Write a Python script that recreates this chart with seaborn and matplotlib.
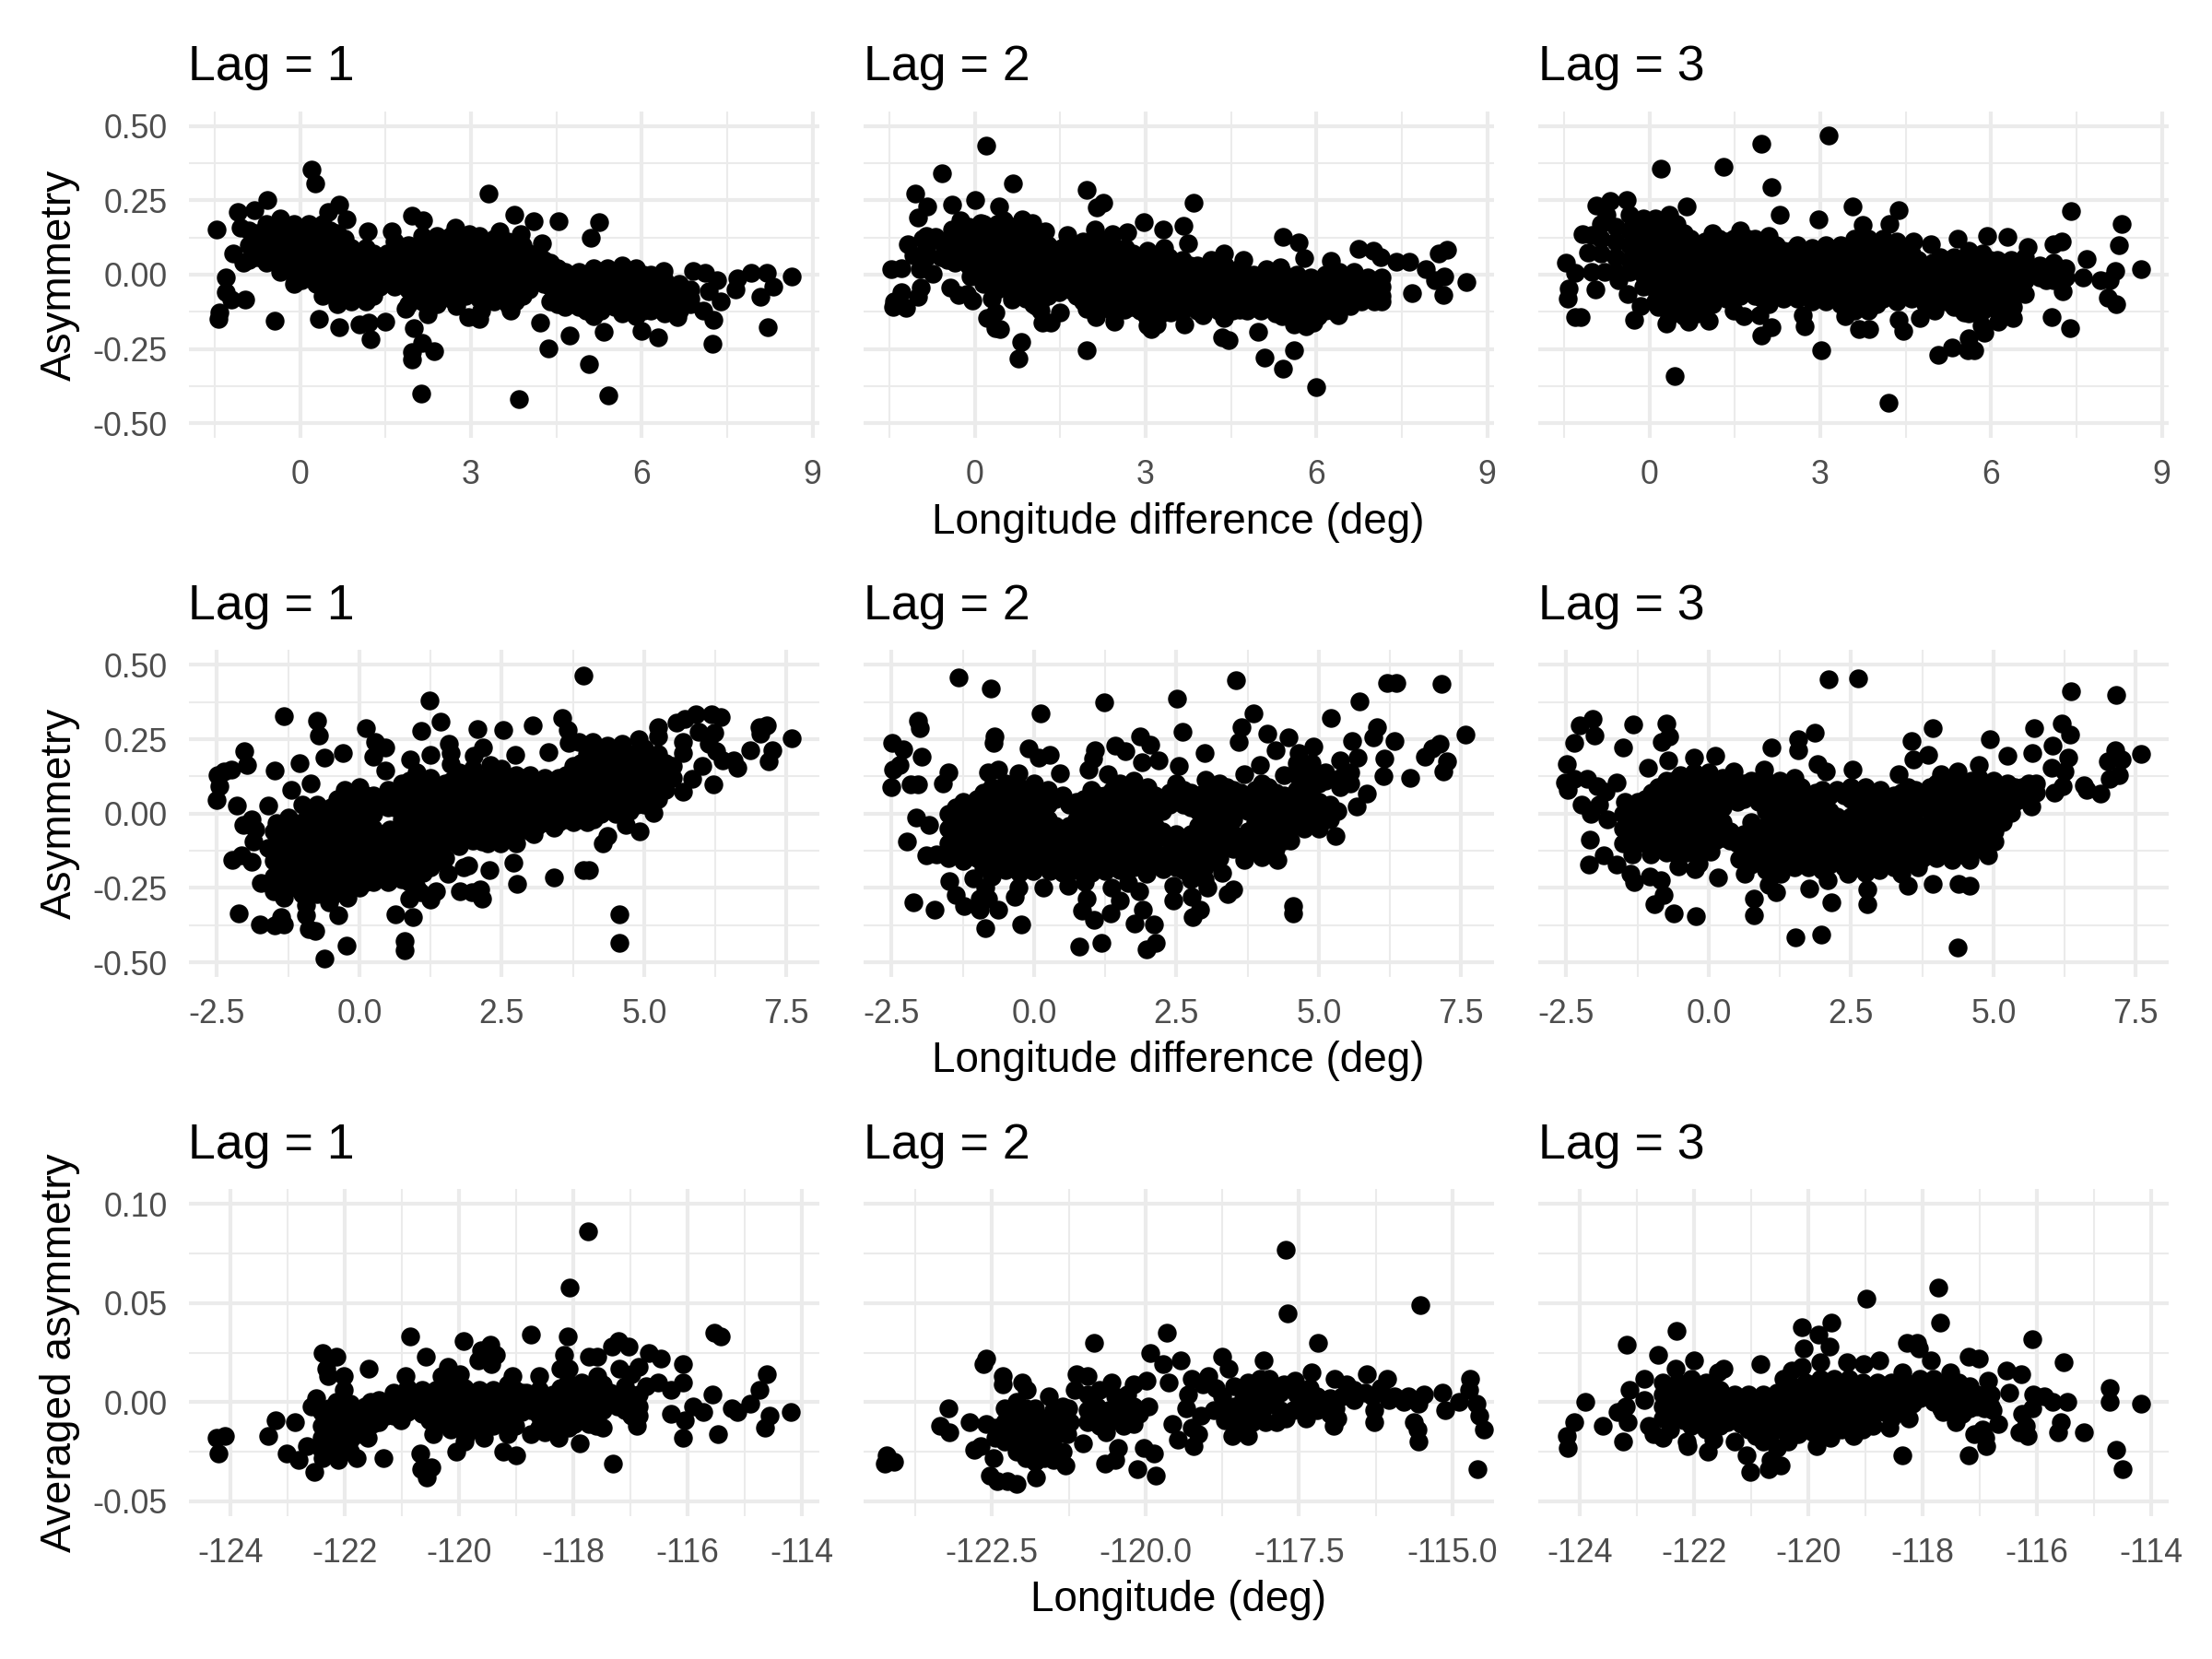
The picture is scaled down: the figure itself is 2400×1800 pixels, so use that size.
#!/usr/bin/env python3
# Asymmetry vs longitude scatter panels, three rows by three lags.
import matplotlib
matplotlib.use("Agg")
import pandas as pd
import seaborn as sns
from matplotlib import pyplot as plt

# each tuple is one x followed by the y values read at that x
top_lag1 = [
(-1.47,.153),(-1.43,-.149),(-1.41,-.126),(-1.3,-.01,-.058),(-1.21,-.084),(-.97,-.084),(-1.18,.07),(-.99,.04),(-1.09,.212),(-.81,.218),(-.57,.25),(-1.04,.159),(-.44,-.155),
(.2,.352),(.27,.307),(.68,.236),(.49,.212),(.82,.186),(.33,-.149),(.69,-.176),(1.05,-.167),(1.21,-.161),(1.49,-.158),(1.23,-.218),(1.85,-.114),(2,-.179),(1.96,-.26,-.286),(2.14,-.229),(2.35,-.256),(2.12,-.399),
(3.84,-.418),(5.41,-.407),(5.08,-.301),(4.74,-.205),(4.36,-.247),(4.21,-.161),(5.33,-.191),(5.99,-.189),(6.29,-.212),(6.63,-.144),(7.25,-.152),(7.24,-.233),(7.08,-.12),(8.21,-.176),(8.09,-.076),(8.31,-.039),(8.64,-.007),(8.2,.007),(7.92,.005),(7.68,-.013),(7.64,-.051),(7.38,-.09),(7.18,-.055),(7.32,-.019),(7.11,.005),(6.9,.011),(6.39,.011),
(3.3,.274),(3.76,.2),(4.1,.18),(4.54,.18),(5.25,.177),(5.11,.125),(4.25,.105),(3.88,.135),(3.51,.147),(1.96,.198),(2.16,.183),(1.61,.147),(1.19,.147),(2.72,.159),(3.14,.129),(2.97,.135),(3.7,-.12),(3.18,-.12),(2.95,-.143),(3.14,-.149),(2.74,-.106),(2.24,-.132),
(-.9,.15,.1,.05),(-.6,.17,.12,.08,.04),(-.35,.19,.14,.1,.06,.01),(-.1,.17,.13,.08,.04,0,-.03),(.15,.17,.12,.08,.03,-.01),(.4,.17,.12,.08,.03,-.02,-.07),(.65,.14,.1,.05,0,-.05,-.1),(.9,.09,.05,0,-.05,-.09),(1.15,.09,.05,0,-.05,-.09),(1.4,.05,0,-.04),(1.65,.11,.07,.03,-.01,-.04),(1.9,.1,.05,0,-.05,-.1),(2.15,.13,.08,.04,0,-.04,-.09),(2.4,.13,.09,.05,0,-.05,-.1),(2.65,.13,.09,.04,0,-.04,-.08),(2.9,.1,.06,.02,-.03,-.07),(3.15,.1,.05,.01,-.04,-.08),(3.4,.12,.08,.04,0,-.05,-.09),(3.65,.11,.07,.03,-.02,-.07,-.1),(3.9,.1,.05,.01,-.03,-.07),(4.15,.06,.02,-.02),(4.4,.04,0,-.04,-.09),(4.65,.01,-.03,-.07,-.11),(4.9,.01,-.03,-.07,-.11),(5.15,.02,-.02,-.06,-.1,-.14),(5.4,.02,-.02,-.06,-.1),(5.65,.03,-.01,-.05,-.09,-.13),(5.9,.02,-.02,-.06,-.1,-.14),(6.15,0,-.04,-.08,-.12),(6.4,-.02,-.06,-.1,-.13),(6.65,-.03,-.06,-.09,-.12),(6.85,-.05,-.08,-.1),
(-.75,.14,.09,.06),(-.48,.15,.1,.06),(-.22,.16,.12,.08,.03),(.02,.15,.1,.06,.02,-.02),(.28,.15,.1,.05,.01,-.03),(.52,.15,.1,.05,0,-.05),(.78,.12,.07,.02,-.03,-.07),(1.02,.07,.02,-.03,-.07),(1.28,.07,.02,-.02,-.07),(1.52,.07,.02,-.02),(1.78,.08,.05,.01,-.03),(2.02,.08,.03,-.02,-.07),(2.28,.11,.06,.02,-.02,-.07),(2.52,.11,.07,.02,-.02,-.07),(2.78,.11,.07,.02,-.02,-.06),(3.02,.08,.04,0,-.05),(3.28,.08,.03,-.01,-.06),(3.52,.1,.06,.01,-.03,-.07),(3.78,.09,.05,.01,-.05,-.09),(4.02,.07,.03,-.01,-.05),(4.28,.05,.01,-.03),(4.52,.02,-.02,-.06,-.1),(4.78,-.01,-.05,-.09),(5.02,0,-.05,-.09,-.12),(5.28,0,-.04,-.08,-.12),(5.52,.01,-.03,-.08,-.11),(5.78,.01,-.03,-.07,-.11),(6.02,0,-.04,-.08,-.12),(6.28,-.02,-.06,-.1),(6.52,-.04,-.08,-.11),
]
top_lag2 = [
(.2,.435),(-.57,.34),(.67,.307),(-1.04,.272),(-.83,.23),(-.4,.235),(.01,.25),(.43,.228),(-1,.193),(1.97,.285),(2.25,.243),(2.14,.225),(3.84,.241),(2.97,.176),(3.3,.153),(3.67,.164),(3.75,.104),(5.41,.126),(5.69,.109),(5.78,.055),(6.26,.046),(6.74,.086),(7,.08),(7.12,.06),(7.41,.044),(7.63,.042),(8.3,.082),(8.15,.07),(7.92,.019),(8.25,-.005),(8.08,-.02),(8.63,-.025),(7.68,-.062),(8.23,-.068),
(-1.46,.018),(-1.29,.02,-.059),(-.95,-.043),(-.99,-.076),(-1.41,-.09),(-1.43,-.109),(-1.2,-.113),(-.43,-.045),(-.29,-.067),(-.14,-.064),(-.04,-.087),(.3,-.082),(.36,-.126,-.179),(.22,-.146),(.45,-.182),(.81,-.226),(.76,-.282),(1.96,-.254),(-.07,-.007),(-.74,.003),(-.97,.018),(-1.17,.101),(-1.08,.065),(-.92,.122),
(1.18,-.162),(1.33,-.162),(1.5,-.128),(1.48,-.059),(1.08,-.105),(.65,-.085),(1.97,-.115),(2.13,-.144),(2.45,-.157),(2.63,-.118),(3.03,-.172),(3.2,-.169),(3.1,-.182),(3.68,-.167),(4,-.136),(4.38,-.146),(4.35,-.21),(4.46,-.219),(4.98,-.193),(5.09,-.278),(5.41,-.316),(5.61,-.253),(5.99,-.378),(5.6,-.169),(5.81,-.175),(5.95,-.162),(6.38,-.136),(6.6,-.105),(5.37,-.126),(5.08,-.105),(4.65,-.118),(3.43,-.126),
(.83,.186),(1.01,.173),(1.23,.147),(1.62,.132),(2.11,.153),(2.67,.142),(2.42,.137),(3.03,.08),(3.32,.09),(4.15,.05),(4.38,.072),(4.72,.05),(5.37,.024),(5.12,.019),(-.25,.184),(.11,.173),(.5,.184),(-.69,.127),(-.4,.153),
(-.85,.13,.09,.06),(-.6,.11,.06),(-.35,.15,.11,.07,.04),(-.1,.16,.12,.07,.03),(.15,.17,.12,.08,.04,0,-.03),(.4,.17,.13,.08,.04,0,-.05),(.65,.16,.12,.08,.03,-.02,-.07),(.9,.15,.1,.05,.01,-.04,-.08),(1.15,.12,.08,.03,-.01,-.05,-.09,-.12),(1.4,.08,.03,-.01,-.04),(1.65,.11,.06,.02,-.02,-.05),(1.9,.11,.07,.02,-.03,-.06,-.09),(2.15,.12,.08,.03,-.01,-.05,-.09,-.12),(2.4,.11,.06,.02,-.03,-.08,-.12),(2.65,.09,.05,0,-.05,-.1),(2.9,.05,.01,-.03,-.08,-.12),(3.15,.05,.01,-.03,-.07,-.12,-.15),(3.4,.06,.02,-.03,-.07,-.1),(3.65,.05,.01,-.04,-.08,-.12),(3.9,.03,-.01,-.05,-.09,-.12),(4.15,.02,-.02,-.06,-.1),(4.4,.03,-.02,-.06,-.1),(4.65,.02,-.02,-.06,-.1),(4.9,0,-.04,-.08,-.11),(5.15,.01,-.03,-.07,-.11),(5.4,.01,-.03,-.07,-.11,-.14),(5.65,0,-.04,-.08,-.12,-.15),(5.9,-.01,-.05,-.09,-.13,-.15),(6.15,0,-.04,-.08,-.12),(6.4,.01,-.03,-.07,-.11),(6.65,.01,-.03,-.07),(6.9,-.01,-.05,-.08),(7.15,-.01,-.04,-.07,-.09),
(-.48,.09,.05),(-.22,.13,.09,.05),(.02,.14,.1,.05,.01),(.28,.15,.1,.06,.02,-.02),(.52,.15,.1,.06,.02,-.03),(.78,.14,.1,.06,.01,-.03,-.06),(1.02,.1,.05,.01,-.03,-.07,-.1),(1.28,.1,.06,.01,-.03,-.07),(1.52,.09,.05,.01,-.03),(1.78,.09,.04,0,-.04,-.07),(2.02,.09,.05,0,-.05,-.08),(2.28,.1,.05,.01,-.03,-.07,-.1),(2.52,.08,.04,0,-.05,-.1),(2.78,.07,.03,-.02,-.07,-.11),(3.02,.03,-.01,-.05,-.1,-.14),(3.28,.04,0,-.05,-.1,-.13),(3.52,.04,0,-.05,-.09,-.12),(3.78,.03,-.01,-.06,-.1),(4.02,.01,-.03,-.07,-.11),(4.28,.01,-.04,-.08,-.12),(4.52,0,-.04,-.08,-.12),(4.78,0,-.04,-.08,-.12),(5.02,-.01,-.05,-.09,-.12),(5.28,-.01,-.05,-.09,-.13),(5.52,-.01,-.05,-.09,-.13),(5.78,-.02,-.06,-.1,-.14),(6.02,-.02,-.06,-.1,-.14),(6.28,-.01,-.05,-.09,-.12),(6.52,-.01,-.05,-.09),(6.78,-.03,-.06,-.09),(7.02,-.03,-.06,-.09),
]
top_lag3 = [
(3.15,.469),(1.96,.441),(.2,.357),(1.3,.361),(2.14,.294),(-.4,.25),(-.69,.248),(-.94,.233),(-.76,.202),(.66,.228),(2.29,.202),(3.56,.23),(4.37,.216),(2.97,.185),(3.75,.168),(4.21,.171),(7.4,.214),(8.3,.169),(8.24,.1),(7.68,.053),(8.63,.019),(8.18,.013),(7.62,-.009),(7.92,-.02),(8.08,-.018),(7.26,-.057),(8.05,-.077),(8.2,-.1),(7.06,-.144),(7.38,-.179),(7.24,.111),(7.09,.101),(6.64,.093),(6.28,.127),(5.93,.13),(5.41,.122),(4.94,.101),(4.64,.111),
(-1.46,.039),(-1.3,.006,-.142),(-1.41,-.048),(-1.43,-.08),(-1.21,-.142),(-1.18,.136),(-1.01,.132,.008),(-1.08,.073),(-.95,-.051),(-.38,-.064),(-.16,-.105),(-.27,-.151),(-.54,-.018),(-.79,.008),(.45,-.341),(.3,-.165),(.69,-.157),(1.05,-.155),(.16,-.11),(1.48,-.121),(1.66,-.141),(1.93,-.136),(2.14,-.177),(1.96,-.206),(2.69,-.136),(2.72,-.174),(3.02,-.255),(3.43,-.141),(3.68,-.182),(3.86,-.182),(4.2,-.43),(4.37,-.152),(4.45,-.188),(4.75,-.146),(5.01,-.121),(5.08,-.27),(5.32,-.245),(5.61,-.213),(5.71,-.255),(5.59,-.255),(5.88,-.196),(5.83,-.172),(6.13,-.157),(6.39,-.146,-.11),(6.59,-.064),(6.96,-.02),(5.52,-.126),
(-.85,.17,.12,.07),(-.6,.16,.11,.06,.01),(-.35,.2,.15,.1,.05,.01),(-.1,.19,.14,.09,.05,0,-.04),(.1,.19,.14,.1,.05,0,-.05,-.09),(.35,.2,.15,.1,.05,0,-.05,-.1,-.14),(.6,.14,.09,.04,0,-.05,-.1,-.14),(.85,.09,.04,0,-.05,-.1,-.13),(1.1,.14,.09,.04,0,-.05,-.1),(1.35,.11,.06,.01,-.04,-.08),(1.6,.15,.1,.05,.01,-.04,-.07),(1.85,.12,.07,.02,-.03,-.07),(2.1,.13,.08,.03,-.02,-.07,-.1),(2.35,.08,.04,0,-.05,-.08),(2.6,.1,.05,.01,-.04,-.08),(2.85,.09,.05,0,-.05,-.09),(3.1,.1,.05,0,-.05,-.09),(3.35,.1,.05,0,-.05,-.1),(3.6,.12,.07,.02,-.03,-.08,-.12),(3.85,.12,.07,.02,-.03,-.08,-.12),(4.1,.12,.07,.02,-.03,-.08),(4.35,.11,.06,.01,-.04,-.09),(4.6,.07,.02,-.03,-.08),(4.85,.02,-.03,-.08,-.1),(5.1,.06,.02,-.03,-.08),(5.35,.06,.02,-.03,-.08,-.11),(5.6,.08,.04,0,-.04,-.09,-.13),(5.85,.07,.03,-.02,-.07,-.12),(6.1,.05,.01,-.04,-.09,-.12),(6.35,.05,0,-.05,-.08),(6.6,.06,.02,-.02),(6.85,.03,-.01),(7.1,.04,0,-.02),(7.3,.02,-.01),
(-.22,.16,.12,.07,.03),(.0,.17,.12,.07,.02,-.02),(.22,.17,.12,.07,.02,-.03,-.07),(.48,.17,.12,.07,.02,-.03,-.08,-.12),(.72,.12,.07,.02,-.03,-.07,-.12),(.98,.11,.07,.02,-.03,-.07,-.11),(1.22,.12,.07,.02,-.03,-.07),(1.48,.12,.08,.03,-.02,-.06),(1.72,.12,.08,.03,-.01,-.05),(1.98,.1,.05,0,-.05,-.08),(2.22,.1,.06,.01,-.03,-.07),(2.48,.08,.03,-.02,-.06),(2.72,.08,.03,-.02,-.06),(2.98,.08,.03,-.02,-.07),(3.22,.08,.03,-.02,-.07),(3.48,.08,.03,-.02,-.07),(3.72,.09,.05,0,-.05,-.1),(3.98,.09,.05,0,-.05,-.1),(4.22,.09,.04,-.01,-.06),(4.48,.08,.04,-.01,-.06),(4.72,.05,0,-.05),(4.98,.04,0,-.05,-.09),(5.22,.04,0,-.05,-.09),(5.48,.05,.01,-.03,-.07,-.1),(5.72,.06,.02,-.02,-.06,-.11),(5.98,.05,.01,-.04,-.09),(6.22,.03,-.02,-.07,-.1),(6.48,.03,-.02,-.05),
]
mid_lag1 = [
(3.93,.463),(1.24,.38),(-1.32,.328),(-.75,.312),(-.71,.264),(.11,.287),(1.08,.278),(1.43,.31),(2.07,.284),(2.52,.28),(3.05,.297),(3.57,.321),(3.66,.281),(.27,.24),(.46,.222),(-2.02,.209),(-1.97,.163),(-1.49,.145),(-1.05,.169),(-.62,.189),(-.29,.203),(.25,.191),(.89,.181),(1.25,.197),(1.58,.235),(1.61,.204),(2.17,.223),(2.01,.194),(2.74,.197),(3.32,.206),(2.3,.165),(1.6,.168),(.46,.144),(-.85,.102),(-1.19,.08),(-2.25,.147),(-2.38,.142),(-2.49,.129),(-2.46,.093),(-2.51,.047),(-2.15,.028),(-1.6,.027),
(-1.89,-.018),(-2.04,-.038),(-1.46,-.033),(-1.24,-.012),(-1.82,-.054),(-1.86,-.095),(-2.23,-.155),(-2.07,-.141),(-1.89,-.162),(-1.6,-.115),(-1.73,-.234),(-1.32,-.282),(-2.11,-.337),(-1.75,-.373),(-1.48,-.375),(-1.38,-.347),(-1.33,-.373),(-.94,-.309,-.342),(-.88,-.389),(-.77,-.394),(-.37,-.342),(-.54,-.299),(-.21,-.282),(-.23,-.445),(-.62,-.487),(.64,-.339),(.94,-.347),(.8,-.43,-.459),(.87,-.286),(1.25,-.289),(1.34,-.26),(1.07,-.265),(1.83,-.182),(1.91,-.175),(1.56,-.203),(1.76,-.26),(1.97,-.265),(2.12,-.255),(2.15,-.286),(2.28,-.19),(2.7,-.164),(2.77,-.237),(3.41,-.216),(3.94,-.19),(4.03,-.19),(4.56,-.34,-.435),(4.27,-.1),(4.36,-.074),(4.93,-.059),(4.68,-.038),(1.1,-.193),(.53,-.054),(2.15,-.095),(2.48,-.1),(3.06,-.069),(3.42,-.048),
(5.17,.003),(5.68,.075),(6.21,.099),(5.85,.116),(6.02,.16),(6.63,.153),(7.19,.176),(7.26,.212),(6.87,.212),(7.59,.254),(7.03,.292),(7.16,.297),(7.05,.269),(6.34,.326),(6.18,.333),(5.91,.333),(5.71,.318),(5.57,.307),(5.25,.292),(4.91,.25),(5.24,.261),(5.69,.24,.204),(5.95,.276),(6.24,.271),(6.13,.235),(6.27,.209),(6.38,.178),(6.58,.178),(4.61,.235),(4.1,.24),(3.67,.237),(3.85,.24),(4.36,.23),
(-1.5,-.06,-.11,-.16,-.21,-.26),(-1.25,-.03,-.08,-.13,-.18,-.24),(-1,.03,-.03,-.08,-.13,-.18,-.23,-.27),(-.75,.03,-.02,-.07,-.12,-.17,-.22,-.27),(-.5,.02,-.03,-.08,-.13,-.18,-.23,-.28),(-.25,.08,.03,-.02,-.07,-.12,-.17,-.22,-.27),(0,.09,.04,-.01,-.06,-.11,-.16,-.21,-.25),(.25,.06,0,-.05,-.1,-.15,-.2,-.23),(.5,.08,.02,-.1,-.15,-.2,-.23),(.75,.1,.05,-.02,-.07,-.12,-.17,-.22),(1,.14,.09,.04,-.01,-.06,-.11,-.16,-.21,-.25),(1.25,.12,.07,.02,-.03,-.08,-.13,-.18),(1.5,.1,.05,0,-.05,-.1,-.15),(1.75,.14,.09,.04,-.01,-.06,-.11),(2,.15,.1,.05,0,-.05,-.09),(2.25,.1,.05,0,-.05,-.1),(2.5,.15,.1,.05,0,-.05,-.09),(2.75,.13,.08,.03,-.02,-.07,-.1),(3,.13,.08,.03,-.02,-.06),(3.25,.12,.07,.02,-.03),(3.5,.12,.07,.02,-.03),(3.75,.16,.11,.06,.01,-.03),(4,.2,.15,.1,.05,0,-.03),(4.25,.2,.15,.1,.05,0),(4.5,.2,.15,.1,.05,0),(4.75,.2,.15,.1,.05,.01),(5,.22,.17,.12,.07,.03),(5.25,.2,.15,.1,.05),(5.5,.16,.12),
(-1.38,-.08,-.13,-.18,-.23),(-1.12,-.05,-.1,-.15,-.2,-.25),(-.88,0,-.05,-.1,-.15,-.2,-.25),(-.62,0,-.05,-.1,-.15,-.2,-.25),(-.38,.05,0,-.05,-.1,-.15,-.2,-.25),(-.12,.06,.01,-.04,-.09,-.14,-.19,-.24),(.12,.06,.01,-.04,-.09,-.14,-.19,-.23),(.38,.04,-.07,-.12,-.17,-.21),(.62,.07,.02,-.07,-.12,-.17,-.21),(.88,.11,.07,.02,-.04,-.09,-.14,-.19,-.23),(1.12,.1,.05,0,-.05,-.1,-.15,-.2),(1.38,.08,.03,-.02,-.07,-.12,-.16),(1.62,.11,.06,.01,-.04,-.09),(1.88,.12,.07,.02,-.03,-.07),(2.12,.12,.07,.02,-.03,-.07),(2.38,.12,.07,.02,-.03,-.07),(2.62,.11,.06,.01,-.04,-.08),(2.88,.1,.05,0,-.05),(3.12,.1,.05,0,-.04),(3.38,.1,.05,0,-.03),(3.62,.13,.08,.03,-.02),(3.88,.17,.12,.07,.02,-.02),(4.12,.17,.12,.07,.02,-.02),(4.38,.17,.12,.07,.02),(4.62,.17,.12,.07,.02),(4.88,.18,.13,.08,.03),(5.12,.18,.13,.08,.04),(5.38,.17,.12,.08),
]
mid_lag2 = [
(-1.32,.457),(-.76,.42),(.11,.336),(1.24,.374),(2.51,.388),(3.55,.449),(3.85,.336),(6.2,.439),(6.37,.439),(7.15,.436),(5.71,.376),(5.21,.321),(7.58,.265),(6.03,.292),(5.96,.256),(5.59,.245),(6.33,.243),(7.12,.235),(6.99,.22),(6.86,.192),(7.26,.175),(7.19,.142),(6.61,.12),(6.13,.127),(5.84,.068),(5.67,.024),(5.3,-.074),(5.33,.008),(4.55,-.311,-.337),
(-2.04,.312),(-2.01,.289),(-2.49,.237),(-2.29,.216),(-1.98,.192),(-2.36,.165),(-2.47,.147),(-2.51,.088),(-2.16,.099),(-2.04,.099),(-1.5,.14),(-1.6,.103),(-2.07,-.012),(-1.84,-.038),(-2.23,-.095),(-1.89,-.141),(-1.71,-.136),(-1.48,-.227),(-2.11,-.299),(-1.75,-.322),(-1.37,-.275),(-1.23,-.311),(-.95,-.322,-.286),(-.63,-.324),(-.86,-.384),(-.23,-.373),(-.34,-.28),(-.27,-.249),(-.85,-.249),(-1.06,-.219),(-.81,-.286),(.17,-.249),(.6,-.244),(.9,-.229),(.92,-.286),(.85,-.327),(1.05,-.356),(1.34,-.337),(1.5,-.291),(1.36,-.249),(1.65,-.234),(1.84,-.26),(1.91,-.322),(1.77,-.371),(2.1,-.373),(.8,-.448),(1.19,-.435),(1.97,-.456,-.203),(2.14,-.435),(2.44,-.291,-.244),(2.77,-.28),(2.91,-.324),(2.79,-.347),(3.04,-.249),(3.4,-.27),(3.5,-.255),(3.31,-.198),(3.69,-.155),(4.27,-.157),(4,-.146),(2.26,-.188),(-.01,-.193),(.27,-.193),(1.25,-.193),
(-.7,.261),(-.71,.237),(-.1,.22),(.09,.189),(.27,.199),(1.07,.214),(1.03,.184),(1.43,.23),(1.61,.209),(1.86,.261),(2.04,.233),(2.19,.178),(1.9,.173),(2.61,.276),(3,.203),(2.55,.161),(3.65,.292),(4.09,.268),(3.59,.24),(4.47,.258),(4.9,.225),(4.25,.214),(4.65,.204),(3.96,.163),(3.69,.132),(4.83,.132),(5.37,.178),(5.69,.189),(6.16,.184),(5.48,.122),(3.02,.113),(-.81,.14),(-.63,.147),(-.27,.137),(.46,.137),(.96,.147),(1.29,.132),
(-1.5,0,-.05,-.1,-.15),(-1.25,.04,-.01,-.06,-.11,-.16),(-1,.05,0,-.05,-.1,-.15),(-.75,.09,.04,-.01,-.06,-.11,-.16,-.21),(-.5,.1,.05,0,-.05,-.1,-.15,-.19),(-.25,.09,.04,-.01,-.06,-.11,-.16,-.2),(0,.1,.05,0,-.05,-.1,-.15),(.25,.08,.03,-.02,-.07,-.12,-.16),(.5,.06,-.06,-.11,-.16,-.2),(.75,.04,-.02,-.07,-.12,-.16,-.19),(1,.08,.03,-.02,-.07,-.12,-.17,-.2),(1.25,.06,.01,-.04,-.09,-.14,-.19),(1.5,.1,.05,0,-.05,-.1,-.15,-.19),(1.75,.11,.06,.01,-.04,-.09,-.14,-.18),(2,.09,.04,-.01,-.06,-.11,-.16),(2.25,.05,.01,-.06,-.14,-.18),(2.5,.1,.05,-.07,-.12,-.18),(2.75,.07,.02,-.07,-.12,-.17,-.22),(3,.07,.02,-.03,-.08,-.13,-.18,-.22),(3.25,.1,.05,0,-.05,-.1,-.15),(3.5,.08,.03,-.02,-.07,-.12),(3.75,.06,.01,-.06,-.11),(4,.1,.05,0,-.1,-.14),(4.25,.07,.02,-.03,-.08,-.12),(4.5,.05,0,-.05,-.09),(4.75,.1,.04,-.01,-.05),(5,.13,.1,.04,-.01,-.05),(5.2,.03,-.02),
(-1.38,.02,-.03,-.08,-.13),(-1.12,.02,-.03,-.08,-.13),(-.88,.07,.02,-.03,-.08,-.13,-.18),(-.62,.07,.02,-.03,-.08,-.13,-.18),(-.38,.07,.02,-.03,-.08,-.13,-.18),(-.12,.07,.02,-.03,-.08,-.13,-.18),(.12,.07,.02,-.03,-.08,-.13),(.38,.05,-.04,-.09,-.14,-.18),(.62,.03,-.04,-.09,-.14,-.18),(.88,.05,0,-.05,-.1,-.14),(1.12,.06,.01,-.04,-.09,-.14),(1.38,.08,.03,-.02,-.07,-.12,-.17),(1.62,.08,.03,-.02,-.07,-.12,-.17),(1.88,.08,.03,-.02,-.07,-.12,-.16),(2.12,.06,.01,-.04,-.09,-.14),(2.38,.07,.03,-.09,-.13,-.17),(2.62,.08,.03,-.09,-.14,-.19),(2.88,.06,.01,-.04,-.09,-.14,-.19),(3.12,.08,.03,-.02,-.07,-.12,-.16),(3.38,.09,.04,-.01,-.06,-.11),(3.62,.07,.02,-.08,-.12),(3.88,.08,.03,-.03,-.08,-.12),(4.12,.09,.04,-.01,-.06,-.11),(4.38,.13,.06,.01,-.04,-.09),(4.62,.17,.13,.08,.02,-.03),(4.88,.17,.14,.08,.02,-.03),(5.12,.14,.11,.02),(5.38,.12,.09),(5.55,.14,.1),
]
mid_lag3 = [
(2.1,.452),(2.62,.455),(6.36,.412),(7.16,.398),(7.59,.201),(7.14,.214),(7.26,.181),(7.01,.175),(7.2,.129),(7.04,.116),(6.59,.096),(6.64,.08),(6.88,.067),(6.2,.302),(6.34,.266),(5.72,.289),(4.94,.251),(3.93,.287),(3.56,.245),(3.86,.199),(3.59,.181),(5.68,.204),(6.04,.23),(6.32,.189),(6.03,.153),(6.25,.142),(6.21,.091),(6.07,.07),(5.67,.024),(5.24,.194),(4.74,.163),(4.37,.142),(4.08,.132),(3.33,.134),(3.02,.08),(2.52,.147),(1.91,.168),(2.05,.142),(1.87,.271),(1.58,.251,.214),(1.1,.223),(.98,.147),(.44,.142),(.12,.196),(-.26,.189),(-.75,.302),(-.69,.259),(-.82,.24),(-.71,.178),(-1.06,.155),(-1.5,.223),(-1.32,.3),(-2.03,.318),(-2.27,.297),(-2.01,.263),(-2.36,.238,.116),(-2.49,.168),(-2.52,.106),(-2.47,.08),(-2.14,.116),(-1.96,.091),(-1.81,.075),(-1.61,.104),(-2.23,.029),(-1.92,.029),(-2.07,-.002),(-1.78,-.018),(-1.47,.039),
(-2.08,-.087),(-1.85,-.141),(-2.1,-.172),(-1.62,-.172),(-1.38,-.203),(-1.31,-.229),(-1.04,-.21),(-.84,-.224),(-.79,-.275),(-.95,-.306),(-.62,-.335),(-.23,-.344),(.17,-.215),(-.24,-.188),(-.17,-.167),(-.54,-.177),(.03,-.128),(-1.02,-.136),(-1.34,-.136),(.8,-.286,-.342),(1.19,-.265),(1.06,-.239),(1.53,-.416),(1.97,-.408),(2.15,-.298),(1.76,-.253),(2.09,-.224),(2.78,-.255,-.304),(3.49,-.244),(3.93,-.235),(4.39,-.237),(4.58,-.244,-.155),(4.37,-.451),(4.91,-.141),(4.27,-.155),(3.68,-.182),(3.39,-.203),(2.45,-.203),(1.26,-.203),(.64,-.203),(.54,-.152),(5.02,-.095,-.059),(5.31,.003),(5.16,-.028),
(-1.5,0,-.05,-.1),(-1.25,.04,-.01,-.06,-.1),(-1,.07,.02,-.03,-.07),(-.75,.11,.06,.01,-.04,-.09,-.13),(-.5,.13,.08,.03,-.02,-.07,-.12),(-.25,.14,.09,.04,-.01,-.06,-.11),(0,.14,.09,.04,-.01,-.06,-.1),(.25,.12,.07,.02,-.03,-.08),(.5,.09,.04,-.08,-.1),(.75,.11,.06,-.03,-.09,-.13,-.17),(1,.11,.06,.01,-.04,-.09,-.15,-.19),(1.25,.11,.06,.01,-.04,-.09,-.14),(1.5,.12,.07,.02,-.03,-.08,-.14,-.18),(1.75,.06,.01,-.04,-.09,-.14,-.18),(2,.08,.04,-.02,-.06,-.1,-.15,-.19),(2.25,.08,-.01,-.06,-.11,-.16),(2.5,.09,.05,-.01,-.06,-.11,-.16),(2.75,.09,.04,-.01,-.06,-.11,-.16,-.2),(3,.05,0,-.05,-.1,-.15,-.19),(3.25,.06,.01,-.04,-.09,-.14,-.18),(3.5,.09,.04,-.01,-.06,-.11,-.15),(3.75,.07,.02,-.06,-.11,-.15),(4,.1,.05,0,-.05,-.1,-.15),(4.25,.11,.06,.01,-.04,-.09,-.14),(4.5,.1,.05,0,-.05,-.1,-.14),(4.75,.12,.07,.02,-.03,-.08,-.12),(5,.11,.06,.01,-.03),(5.25,.1,.05),(5.5,.09,.05),(5.75,.1,.07),
(-1.38,.02,-.03,-.08),(-1.12,.05,0,-.05,-.09),(-.88,.09,.04,-.01,-.06,-.11),(-.62,.11,.06,.01,-.04,-.09,-.13),(-.38,.11,.06,.01,-.04,-.09,-.13),(-.12,.12,.07,.02,-.03,-.08,-.12),(.12,.1,.05,0,-.05,-.09),(.38,.1,.05,-.06,-.09),(.62,.1,.05,-.07,-.11),(.88,.09,.04,-.06,-.11,-.15),(1.12,.08,.03,-.02,-.07,-.12,-.17),(1.38,.09,.04,-.01,-.06,-.11,-.16),(1.62,.09,.04,-.01,-.06,-.11,-.16),(1.88,.07,.03,-.02,-.07,-.12,-.16),(2.12,.06,.01,-.04,-.09,-.13,-.17),(2.38,.06,-.03,-.08,-.13,-.18),(2.62,.07,.02,-.03,-.08,-.13,-.18),(2.88,.07,.02,-.03,-.08,-.13,-.18),(3.12,.04,-.01,-.06,-.11,-.16),(3.38,.07,.02,-.03,-.08,-.13,-.17),(3.62,.08,.03,-.03,-.08,-.13),(3.88,.09,.04,-.03,-.08,-.13),(4.12,.08,.03,-.02,-.07,-.12),(4.38,.09,.04,-.01,-.06,-.11),(4.62,.11,.05,0,-.05,-.1),(4.88,.1,.05,0,-.05,-.1),(5.12,.09,.04,0),(5.38,.09,.04),(5.62,.1,.06),
]
low_lag1 = [
(-117.74,.086),(-118.07,.058),(-118.75,.034,-.016),(-118.1,.033),(-120.86,.033),(-119.93,.031),(-115.54,.035),(-115.42,.033),(-117.21,.031),(-117.03,.028),(-117.32,.028),(-116.68,.025),(-116.47,.022),(-116.08,.019,.01,-.018),(-117.72,.023),(-117.58,.023,.013),(-118.16,.024),(-114.61,.014),(-114.74,.006),(-115.56,.004),(-114.9,-.001),(-115.22,-.003),(-115.13,-.005),(-114.19,-.005),(-114.57,-.007),(-114.64,-.013),(-115.47,-.016),(-115.73,-.005),(-115.91,-.002),(-116.29,-.006,.006),(-116.05,-.009),(-116.89,-.012),(-117.3,-.031),(-117.89,-.021),(-118.26,-.018),(-119.01,-.027),(-119.23,-.025),(-120.05,-.025),(-120.57,-.038),(-120.49,-.033),(-120.66,-.034),(-120.68,-.026),(-120.45,-.016),(-121.33,-.028),(-122.54,-.035),(-122.81,-.029),(-123.02,-.026),(-123.34,-.017),(-123.22,-.009),(-122.87,-.01),(-124.22,-.026),(-124.24,-.018),(-124.1,-.017),
(-122.39,.025,-.028),(-122.15,.023),(-122.33,.017),(-122.3,.013),(-122.02,.013,.006),(-121.59,.017),(-120.58,.023),(-120.94,.013),(-120.19,.018),(-120.31,.013),(-119.98,.014),(-119.62,.026),(-119.45,.029),(-119.36,.024),(-119.66,.021),(-119.43,.019),(-119.06,.013),(-118.6,.013),(-118.09,.017,-.013),(-118.23,.017),(-117.19,.017),(-116.86,.018),(-116.98,.014),(-116.52,.01),(-116.73,.008),(-118.83,.005),(-117.49,.009,-.013),(-118.5,-.015),(-119.15,-.016),(-119.57,-.018),(-119.89,-.017),(-121.6,-.018),(-121.79,-.028),(-122.11,-.029),(-122.67,-.022),(-122.51,.002),(-122.58,-.002),(-121.56,0),(-121.05,.003),
(-122.4,-.005,-.012,-.018,-.024),(-122.15,0,-.006,-.012,-.018,-.024),(-121.9,-.001,-.007,-.013,-.019,-.025),(-121.65,-.002,-.008,-.014),(-121.4,.001,-.004,-.01),(-121.15,.005,-.001,-.007),(-120.9,.007,.001,-.005),(-120.65,.006,0,-.006),(-120.4,.006,0,-.005,-.011),(-120.15,.01,.004,-.002,-.008,-.014),(-119.9,.007,.001,-.005,-.011,-.02),(-119.65,.006,0,-.006,-.012),(-119.4,.006,0,-.006,-.012),(-119.15,.009,.003,-.003,-.009),(-118.9,.005,-.005),(-118.6,.006,0,-.007,-.013),(-118.35,.004,-.002,-.008,-.014),(-118.1,.01,.004,-.002,-.008),(-117.85,.01,.004,-.002,-.008),(-117.6,.005,-.001,-.007,-.012),(-117.35,.005,-.001),(-117.1,.008,.002,-.004),(-116.85,.004,-.002,-.007),
(-122.28,-.003,-.009,-.015,-.021),(-122.02,-.003,-.009,-.015,-.021),(-121.78,-.004,-.01,-.016),(-121.52,-.005,-.011),(-121.28,-.001,-.007),(-121.02,.003,-.003,-.009),(-120.78,.004,-.002),(-120.52,.003,-.003,-.009),(-120.28,.008,.002,-.003,-.009),(-120.02,.004,-.002,-.008,-.013),(-119.78,.003,-.003,-.009,-.014),(-119.52,.003,-.003,-.009,-.013),(-119.28,.003,-.003,-.009),(-119.02,.006,0,-.006,-.012),(-118.75,.002,-.004),(-118.48,.002,-.004,-.01),(-118.22,.007,.001,-.005,-.011),(-117.98,.007,.001,-.005,-.011),(-117.72,.007,.001,-.005,-.011),(-117.48,.002,-.004),(-117.22,.003,-.002),(-116.98,.004,-.002,-.007),
]
low_lag2 = [
(-117.72,.077),(-117.69,.045),(-115.53,.049),(-117.19,.03),(-119.65,.035),(-119.92,.025),(-120.84,.03),(-119.43,.021),(-119.71,.019),(-119.63,.01),(-119.99,.011),(-120.19,.009),(-118.75,.023,.003),(-118.65,.017),(-118.08,.021),(-117.3,.015),(-116.92,.012),(-116.4,.014),(-116.07,.012),(-116.73,.009),(-116.17,.007),(-116.42,.005),(-115.72,.003),(-115.46,.004),(-115.17,.005),(-114.72,.012),(-114.73,.006),(-114.89,0),(-114.61,-.001),(-115.12,-.004),(-114.56,-.007),(-114.49,-.014),(-114.6,-.034),(-115.55,-.02,-.001),(-115.57,-.014),(-115.63,-.01),(-116.27,-.01),(-116.28,-.004),(-116.94,-.012),(-116.87,-.008),(-117.39,-.008,-.001),(-117.08,-.003),(-115.79,0),(-116.03,.001),(-117.71,-.008),(-117.87,-.01),(-118.33,-.017,.01),(-118.59,-.017),(-118.51,-.01),(-119.21,-.022),(-119.47,-.019),(-119.14,-.016),(-119.24,-.013,.012),(-119.09,-.007),(-119.57,-.011),(-119.34,-.003),(-119.31,.004),(-118.98,.013),(-119.07,.009),(-119.87,-.026),(-120.03,-.023),(-119.83,-.037),(-120.14,-.034),(-120.49,-.029,.003),(-120.66,-.031),(-120.45,-.023),(-121.02,-.021),(-121.31,-.032),(-121.78,-.038),(-122.1,-.041),(-122.25,-.04),(-122.41,-.04),(-122.53,-.037),(-122.47,-.028),(-122.79,-.024),(-122.69,-.022),(-123.19,-.015),(-123.35,-.012),(-123.21,-.003),(-122.86,-.01),(-122.6,-.011,.022),(-122.64,.019),(-122.32,.013,.009),(-122.01,.01),(-121.94,.006),(-121.57,.003),(-121.12,.014),(-120.95,.013,.004),(-121.16,.006),(-120.56,.01),(-121.26,-.003),(-121.23,-.01),(-121.28,-.016),(-120.36,-.012),(-120.65,-.015),(-119.95,-.002),(-120.11,-.006),(-124.22,-.027),(-124.24,-.031),(-124.1,-.03),
(-118.13,.012,-.006),(-117.99,.012),(-117.74,.009),(-117.57,.011),(-117.32,.007),(-118.89,-.004),(-118.23,.004),(-117.95,.001),(-117.53,.004),(-118.54,-.006),(-116.9,-.003),(-116.8,.003),
(-122.3,-.003,-.01,-.015,-.02),(-122.45,-.013,-.018),(-122.1,0,-.005,-.01,-.015,-.02,-.025),(-121.95,-.003,-.008,-.013,-.018,-.023,-.028),(-121.8,-.003,-.008,-.013,-.018,-.023,-.03),(-121.65,-.008,-.013,-.018,-.023,-.028),(-121.5,-.004,-.012,-.018,-.024,-.029),(-121.35,-.002,-.008,-.015,-.025),(-120.95,-.004,-.01),(-120.8,-.002,-.008),(-120.6,-.004,-.01),(-120.4,-.003,-.008),(-118.4,-.005,.002),(-118.45,-.012),
(-120.75,.006,-.012),(-120.3,-.004,.004),(-120.2,-.011,-.002),(-118.7,-.003,-.009),(-118.85,.007),(-118.55,.008,-.002),(-118.25,-.003,-.01),(-118.05,.006,-.002,-.01),(-117.8,.005,-.004),(-117.6,.007,-.004),(-117.2,.003,-.004),(-117,.002,-.006),(-116.6,.006,.001),(-116.3,.003),(-115.95,.003),
]
low_lag3 = [
(-117.72,.058),(-118.98,.052),(-117.7,.04),(-119.6,.04),(-120.12,.038,.018),(-119.83,.034),(-120.08,.027),(-119.63,.028),(-122.31,.036),(-123.19,.029),(-122.63,.024),(-122.01,.021),(-122.33,.017),(-120.84,.019),(-121.48,.017),(-121.59,.015),(-122.87,.012,.001),(-123.14,.006),(-123.91,0),(-124.11,-.01),(-124.23,-.017),(-124.21,-.023),(-123.6,-.012),(-123.35,-.005),(-123.2,-.002),(-123.17,-.01),(-123.25,-.02),(-122.79,-.012),(-122.71,-.016),(-122.42,-.014),(-122.55,-.018),(-122.13,-.02),(-122.12,-.022),(-121.66,-.019),(-121.77,-.025),(-121.29,-.02),(-121.09,-.027),(-121.02,-.035),(-120.69,-.034),(-120.48,-.032),(-120.66,-.029),(-120.55,-.023),(-120.35,-.02),(-119.85,-.022),(-119.61,-.018),(-119.22,-.017),(-118.87,-.012),(-118.59,-.013),(-118.35,-.027,.015),(-118.24,-.008),(-117.65,-.005),(-117.42,-.01),(-117.2,-.027,.023),(-117.09,-.016),(-116.95,-.014,.001),(-116.88,-.022),(-116.91,-.018),(-116.67,-.011),(-116.77,-.004),(-116.3,-.015),(-116.16,-.017),(-116.19,-.012),(-115.63,-.015),(-115.58,-.01),(-115.18,-.015),(-114.61,-.024),(-114.5,-.034),(-114.18,-.001),(-114.72,0),(-114.73,.007),(-115.47,0),(-115.72,0),(-115.87,.003),(-116.07,.004),(-116.08,-.003,.032),(-116.26,-.006),(-115.53,.02),(-116.28,.014),(-116.54,.016),(-116.48,.005),(-116.85,.011),(-117.02,.022),(-117.52,.015),(-117.85,.021),(-118.06,.027),(-118.1,.03),(-118.28,.03),(-118.76,.021),(-119.04,.019),(-119.32,.02),(-119.79,.02),(-120.3,.016),(-120.44,.012),(-117.18,.008),(-117.38,.01),
(-122.55,.01,.004,-.002,-.008),(-122.3,.01,.004,-.002,-.008),(-122.05,.012,.006,0,-.006,-.012),(-121.8,.01,.004,-.002,-.008,-.014),(-121.55,.006,0,-.006,-.012),(-121.3,.004,-.002,-.008),(-121.05,.004,-.002,-.008,-.014),(-120.8,.004,-.002,-.008,-.014,-.02),(-120.55,.005,-.002,-.008,-.014),(-120.3,.008,.002,-.004,-.01,-.016),(-120.05,.01,.004,-.002,-.008,-.014),(-119.8,.012,.006,0,-.006,-.012),(-119.55,.012,.006,0,-.006,-.013),(-119.3,.012,.006,0,-.006,-.012),(-119.05,.01,.004,-.002,-.008,-.014),(-118.8,.01,.004,-.002),(-118.55,.01,.004,-.002,-.008),(-118.3,.008,.002,-.003),(-118.05,.012,.006,.002),(-117.8,.012,.006,0),(-117.55,.01,.004,-.002),(-117.3,.006,0,-.006),(-117.05,.004,-.002),(-116.8,.004,-.002),
(-122.42,.007,.001,-.005),(-122.18,.009,.003,-.003,-.009),(-121.92,.008,.002,-.004,-.01),(-121.68,.007,.001,-.005,-.011),(-121.42,.002,-.004,-.01),(-121.18,.001,-.005,-.011),(-120.92,.001,-.005,-.011,-.017),(-120.68,.001,-.005,-.011,-.017),(-120.42,.006,0,-.006,-.012),(-120.18,.007,.001,-.005,-.011,-.016),(-119.92,.009,.003,-.003,-.009,-.015),(-119.68,.009,.003,-.003,-.009,-.015),(-119.42,.009,.003,-.003,-.009,-.014),(-119.18,.007,.001,-.005,-.011),(-118.92,.007,.001,-.005,-.009),(-118.68,.007,.001,-.005),(-118.42,.006,0,-.005),(-118.18,.009,.004,-.001),(-117.92,.009,.003),(-117.68,.008,.002,-.003),(-117.42,.004,-.002),(-117.18,.003,-.003),(-116.92,.003,-.003),
]

LAG_TITLES = ["Lag = 1", "Lag = 2", "Lag = 3"]
ROW_DATA = [[top_lag1, top_lag2, top_lag3], [mid_lag1, mid_lag2, mid_lag3], [low_lag1, low_lag2, low_lag3]]
ROW_YLABELS = ["Asymmetry", "Asymmetry", "Averaged asymmetry"]
ROW_XLABELS = ["Longitude difference (deg)", "Longitude difference (deg)", "Longitude (deg)"]

ASYM_TICKS = [-0.5, -0.25, 0, 0.25, 0.5]
ASYM_LABELS = ["-0.50", "-0.25", "0.00", "0.25", "0.50"]
AVG_TICKS = [-0.05, 0, 0.05, 0.1]
AVG_LABELS = ["-0.05", "0.00", "0.05", "0.10"]
TOP_TICKS = [0, 3, 6, 9]
MID_TICKS = [-2.5, 0, 2.5, 5, 7.5]
MID_LABELS = ["-2.5", "0.0", "2.5", "5.0", "7.5"]
LOW_TICKS = [-124, -122, -120, -118, -116, -114]
LOW2_TICKS = [-122.5, -120, -117.5, -115]
LOW2_LABELS = ["-122.5", "-120.0", "-117.5", "-115.0"]

GRID = "#EBEBEB"
TICK_TEXT = "#4D4D4D"


def to_frame(columns):
    rows = [(col[0], y) for col in columns for y in col[1:]]
    return pd.DataFrame(rows, columns=["x", "y"])


def midpoints(ticks):
    step = ticks[1] - ticks[0]
    return [ticks[0] - step / 2] + [t + step / 2 for t in ticks]


def style_axis(ax, xticks, xlabels, xlim, yticks, ylabels, ylim, left):
    ax.set_xlim(*xlim)
    ax.set_ylim(*ylim)
    ax.set_xticks(xticks, xlabels)
    ax.set_yticks(yticks, ylabels)
    ax.set_xticks([m for m in midpoints(xticks) if xlim[0] < m < xlim[1]], minor=True)
    ax.set_yticks([m for m in midpoints(yticks) if ylim[0] < m < ylim[1]], minor=True)
    ax.grid(True, which="major", color=GRID, linewidth=1.0)
    ax.grid(True, which="minor", color=GRID, linewidth=0.5)
    ax.set_axisbelow(True)
    ax.tick_params(which="both", length=0, labelsize=8.55, labelcolor=TICK_TEXT, pad=5.5, labelleft=left)
    sns.despine(ax=ax, left=True, bottom=True, top=True, right=True)


sns.set_theme(style="white")
plt.rcParams["font.family"] = ["Liberation Sans", "DejaVu Sans"]
plt.rcParams["text.color"] = "black"
plt.rcParams["axes.labelcolor"] = "black"
plt.rcParams["axes.titlecolor"] = "black"

fig, axes = plt.subplots(3, 3, figsize=(8, 6), dpi=300)
fig.subplots_adjust(left=204.5 / 2400, right=2352.5 / 2400, top=1 - 120.5 / 1800, bottom=1 - 1645 / 1800,
                    wspace=48 / 684, hspace=230 / 355)

for r in range(3):
    for c in range(3):
        ax = axes[r, c]
        sns.scatterplot(data=to_frame(ROW_DATA[r][c]), x="x", y="y", color="black", s=24, linewidth=0, ax=ax, zorder=3)
        if r == 0:
            style_axis(ax, TOP_TICKS, [str(t) for t in TOP_TICKS], (-1.96, 9.11), ASYM_TICKS, ASYM_LABELS, (-0.55, 0.55), c == 0)
        elif r == 1:
            style_axis(ax, MID_TICKS, MID_LABELS, (-3.0, 8.07), ASYM_TICKS, ASYM_LABELS, (-0.55, 0.55), c == 0)
        elif c == 1:
            style_axis(ax, LOW2_TICKS, LOW2_LABELS, (-124.6, -114.33), AVG_TICKS, AVG_LABELS, (-0.0575, 0.1075), False)
        else:
            style_axis(ax, LOW_TICKS, [str(t) for t in LOW_TICKS], (-124.74, -113.7), AVG_TICKS, AVG_LABELS, (-0.0575, 0.1075), c == 0)
        ax.set_title(LAG_TITLES[c], loc="left", fontsize=12.9, pad=8)
        ax.set_xlabel(ROW_XLABELS[r] if c == 1 else "", fontsize=11)
        ax.set_ylabel(ROW_YLABELS[r] if c == 0 else "", fontsize=11)
        ax.xaxis.set_label_coords(0.5, -0.195)
        ax.yaxis.set_label_coords(-0.172, 0.5)

fig.savefig("out.png", dpi=300)
